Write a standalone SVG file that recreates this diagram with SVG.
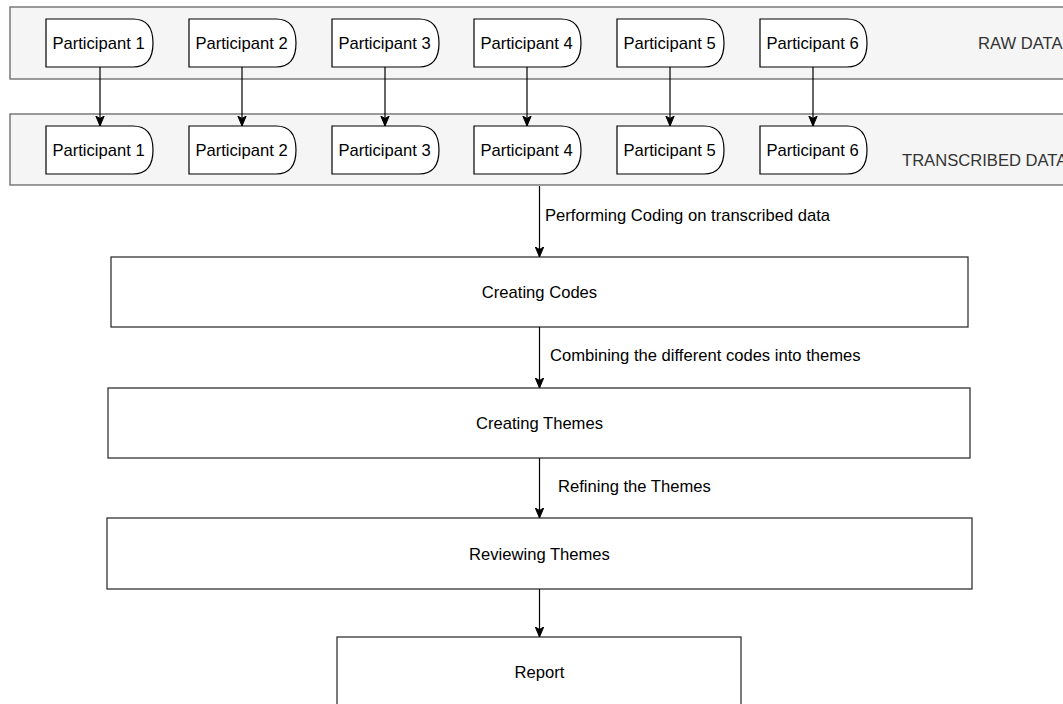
<svg xmlns="http://www.w3.org/2000/svg" width="1063" height="704" viewBox="0 0 1063 704">
<style>
text{font-family:"Liberation Sans",Arial,Helvetica,sans-serif;font-size:16.6px;fill:#000}
.lbl{text-anchor:middle}
.band{fill:#f5f5f5;stroke:#666;stroke-width:1.3}
.bandtxt{fill:#333}
.part{fill:#fff;stroke:#000;stroke-width:1.2}
.box{fill:#fff;stroke:#333;stroke-width:1.3}
.edge{fill:none;stroke:#000;stroke-width:1.2;marker-end:url(#arr)}
</style>
<defs>
<marker id="arr" markerUnits="userSpaceOnUse" markerWidth="12" markerHeight="12" viewBox="0 0 12 12" refX="10" refY="6" orient="auto">
<path d="M0,1.8 L10,6 L0,10.2 L2.5,6 Z" fill="#000" stroke="#000" stroke-width="1"/>
</marker>
</defs>
<g id="band-raw">
<rect class="band" x="10" y="7" width="1070" height="72"/>
<text class="bandtxt" x="978" y="49">RAW DATA</text>
</g>
<g id="band-transcribed">
<rect class="band" x="10" y="114" width="1070" height="71"/>
<text class="bandtxt" x="902" y="166">TRANSCRIBED DATA</text>
</g>
<g id="raw-p1"><path class="part" d="M46,19 H133 Q153,19 153,43 Q153,67 133,67 H46 Z"/><text class="lbl" x="98.5" y="49">Participant 1</text></g>
<g id="raw-p2"><path class="part" d="M189,19 H276 Q296,19 296,43 Q296,67 276,67 H189 Z"/><text class="lbl" x="241.5" y="49">Participant 2</text></g>
<g id="raw-p3"><path class="part" d="M332,19 H419 Q439,19 439,43 Q439,67 419,67 H332 Z"/><text class="lbl" x="384.5" y="49">Participant 3</text></g>
<g id="raw-p4"><path class="part" d="M474,19 H561 Q581,19 581,43 Q581,67 561,67 H474 Z"/><text class="lbl" x="526.5" y="49">Participant 4</text></g>
<g id="raw-p5"><path class="part" d="M617,19 H704 Q724,19 724,43 Q724,67 704,67 H617 Z"/><text class="lbl" x="669.5" y="49">Participant 5</text></g>
<g id="raw-p6"><path class="part" d="M760,19 H847 Q867,19 867,43 Q867,67 847,67 H760 Z"/><text class="lbl" x="812.5" y="49">Participant 6</text></g>
<g id="tr-p1"><path class="part" d="M46,126 H133 Q153,126 153,150 Q153,174 133,174 H46 Z"/><text class="lbl" x="98.5" y="156">Participant 1</text></g>
<g id="tr-p2"><path class="part" d="M189,126 H276 Q296,126 296,150 Q296,174 276,174 H189 Z"/><text class="lbl" x="241.5" y="156">Participant 2</text></g>
<g id="tr-p3"><path class="part" d="M332,126 H419 Q439,126 439,150 Q439,174 419,174 H332 Z"/><text class="lbl" x="384.5" y="156">Participant 3</text></g>
<g id="tr-p4"><path class="part" d="M474,126 H561 Q581,126 581,150 Q581,174 561,174 H474 Z"/><text class="lbl" x="526.5" y="156">Participant 4</text></g>
<g id="tr-p5"><path class="part" d="M617,126 H704 Q724,126 724,150 Q724,174 704,174 H617 Z"/><text class="lbl" x="669.5" y="156">Participant 5</text></g>
<g id="tr-p6"><path class="part" d="M760,126 H847 Q867,126 867,150 Q867,174 847,174 H760 Z"/><text class="lbl" x="812.5" y="156">Participant 6</text></g>
<g id="creating-codes"><rect class="box" x="111" y="257" width="857" height="70"/><text class="lbl" x="539.5" y="298">Creating Codes</text></g>
<g id="creating-themes"><rect class="box" x="108" y="388" width="862" height="70"/><text class="lbl" x="539.5" y="429">Creating Themes</text></g>
<g id="reviewing-themes"><rect class="box" x="107" y="518" width="865" height="71"/><text class="lbl" x="539.5" y="560">Reviewing Themes</text></g>
<g id="report"><rect class="box" x="337" y="637" width="404" height="80"/><text class="lbl" x="539.5" y="678">Report</text></g>
<g id="connectors">
<line class="edge" x1="100" y1="67" x2="100" y2="126"/>
<line class="edge" x1="242" y1="67" x2="242" y2="126"/>
<line class="edge" x1="385" y1="67" x2="385" y2="126"/>
<line class="edge" x1="527" y1="67" x2="527" y2="126"/>
<line class="edge" x1="670" y1="67" x2="670" y2="126"/>
<line class="edge" x1="813" y1="67" x2="813" y2="126"/>
<line class="edge" x1="539.5" y1="186" x2="539.5" y2="257"/>
<line class="edge" x1="539.5" y1="327" x2="539.5" y2="388"/>
<line class="edge" x1="539.5" y1="458" x2="539.5" y2="518"/>
<line class="edge" x1="539.5" y1="589" x2="539.5" y2="637"/>
<text x="545" y="221">Performing Coding on transcribed data</text>
<text x="550" y="361">Combining the different codes into themes</text>
<text x="558" y="492">Refining the Themes</text>
</g>
</svg>
